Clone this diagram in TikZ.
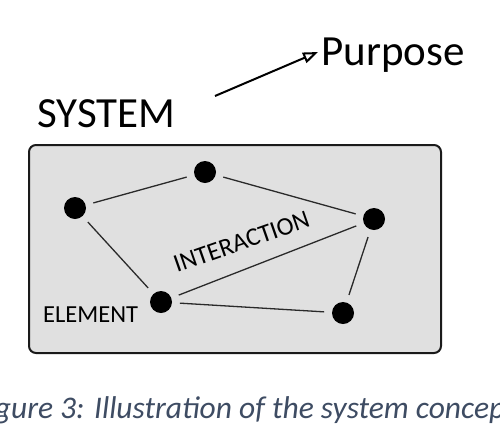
\documentclass[tikz,border=0pt]{standalone}
\usepackage{fontspec}
\setmainfont{Carlito}
\usetikzlibrary{arrows.meta}
\definecolor{boxfill}{HTML}{E0E0E0}
\definecolor{boxline}{HTML}{1A1A1A}
\definecolor{edgecol}{HTML}{2A2A2A}
\definecolor{capcol}{HTML}{3E4C63}
\tikzset{
  dot/.style={circle, fill=black, minimum size=22pt, inner sep=0pt, outer sep=8pt},
  link/.style={draw=edgecol, line width=1.3pt},
  sysbox/.style={draw=boxline, fill=boxfill, line width=2pt, rounded corners=7pt},
  bigtext/.style={font=\fontsize{43}{48}\selectfont, inner sep=0pt, anchor=base west},
  smalltext/.style={font=\fontsize{24.5}{28}\selectfont, inner sep=0pt, anchor=base west},
}
\begin{document}
\begin{tikzpicture}[x=1pt, y=-1pt]
\useasboundingbox (0,0) rectangle (500,445);
\clip (0,0) rectangle (500,445);
\fill[white] (0,0) rectangle (500,445);
% system box
\draw[sysbox] (29,145) rectangle (441,353);
% texts
\node[bigtext] (system) at (37,127) {SYSTEM};
\node[bigtext] (purpose) at (321,65) {Purpose};
\coordinate (arrS) at (215,96);
\coordinate (arrE) at (318,52);
\draw[line width=2pt, -{Triangle[open, fill=white, length=15pt, width=11pt]}] (arrS) -- (arrE);
% elements
\node[dot] (n1) at (205,172) {};
\node[dot] (n2) at (75,208) {};
\node[dot] (n3) at (374,219) {};
\node[dot] (n4) at (161,302) {};
\node[dot] (n5) at (343,313) {};
\draw[link] (n2) -- (n1);
\draw[link] (n1) -- (n3);
\draw[link] (n2) -- (n4);
\draw[link] (n4) -- (n3);
\draw[link] (n3) -- (n5);
\draw[link] (n4) -- (n5);
\node[smalltext] (element) at (43,322) {ELEMENT};
\node[smalltext, font=\fontsize{25.5}{28}\selectfont, rotate=19.3] (interaction) at (177,273) {INTERACTION};
% caption
\node[font=\fontsize{31.5}{36}\selectfont\itshape, text=capcol, inner sep=0pt, anchor=base west] (caption) at (-27,418) {Figure 3: Illustration of the system concept};
\end{tikzpicture}
\end{document}
